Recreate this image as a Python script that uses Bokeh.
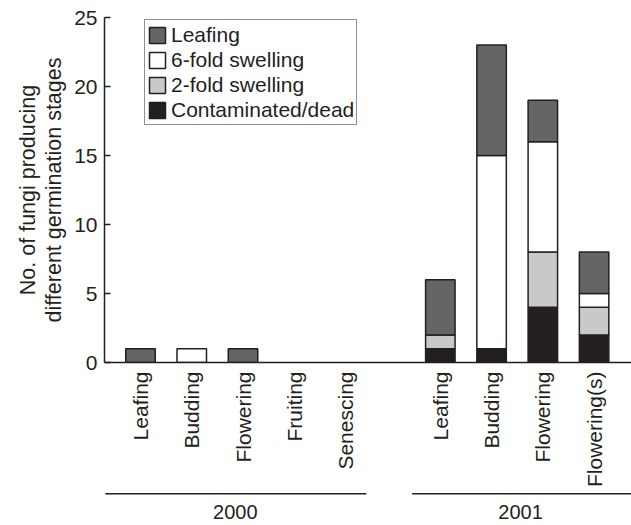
import math
from bokeh.plotting import figure
from bokeh.layouts import column
from bokeh.models import (Range1d, FixedTicker, Legend, LegendItem,
                          ColumnDataSource)
from bokeh.core.properties import value
from bokeh.embed import file_html
from bokeh.resources import INLINE

# ---------------- data ----------------
years = ["2000", "2001"]
stages_2000 = ["Leafing", "Budding", "Flowering", "Fruiting", "Senescing"]
stages_2001 = ["Leafing", "Budding", "Flowering", "Flowering(s)"]

# stacked bottom -> top
dead_2000 = [0, 0, 0, 0, 0]
two_2000 = [0, 0, 0, 0, 0]
six_2000 = [0, 1, 0, 0, 0]
leaf_2000 = [1, 0, 1, 0, 0]

dead_2001 = [1, 1, 4, 2]
two_2001 = [1, 0, 4, 2]
six_2001 = [0, 14, 8, 1]
leaf_2001 = [4, 8, 3, 3]

series_names = ["Contaminated/dead", "2-fold swelling", "6-fold swelling", "Leafing"]
y_ticks = [0, 5, 10, 15, 20, 25]

# ---------------- layout / style ----------------
STEP = 20          # x units between neighbouring bars
GROUP_START = 117  # x of first 2001 bar
BAR_W = 11.5
INK = "#231f20"
FONT = "Liberation Sans"
colors = [INK, "#c8c9cb", "#ffffff", "#646567"]
keys = ["dead", "two", "six", "leaf"]

x_2000 = [i * STEP for i in range(len(stages_2000))]
x_2001 = [GROUP_START + i * STEP for i in range(len(stages_2001))]
x_all = x_2000 + x_2001
cats = stages_2000 + stages_2001

data = dict(
    x=x_all, cat=cats,
    dead=dead_2000 + dead_2001, two=two_2000 + two_2001,
    six=six_2000 + six_2001, leaf=leaf_2000 + leaf_2001,
)
# hide outlines of empty (zero-height) segments
for k in keys:
    data[k + "_la"] = [1.0 if v else 0.0 for v in data[k]]
src = ColumnDataSource(data)

# a row where every segment is drawn (used for legend swatches)
legend_row = next(i for i in range(len(x_all)) if all(data[k][i] for k in keys))

xr = Range1d(-14.05, 191.6)

p = figure(width=631, height=490, x_range=xr, y_range=Range1d(0, 25),
           output_backend="svg", toolbar_location=None,
           min_border_left=104, min_border_right=0,
           min_border_top=17, min_border_bottom=128)
p.grid.visible = False
p.outline_line_color = None

rs = p.vbar_stack(keys, x="x", width=BAR_W,
                  color=colors, line_color=INK, line_width=1.5,
                  line_alpha=[k + "_la" for k in keys],
                  source=src)

# x axis: category labels, rotated (reading bottom to top)
xa = p.xaxis[0]
xa.ticker = FixedTicker(ticks=x_all)
xa.major_label_overrides = {x: c for x, c in zip(x_all, cats)}
xa.major_label_orientation = math.pi / 2
xa.major_tick_line_color = None
xa.minor_tick_line_color = None
xa.major_tick_in = 0
xa.major_tick_out = 0
xa.major_label_standoff = 9
xa.axis_line_color = INK
xa.axis_line_width = 1.5
xa.major_label_text_font = FONT
xa.major_label_text_font_size = "21px"
xa.major_label_text_color = INK

# y axis
ya = p.yaxis[0]
ya.ticker = FixedTicker(ticks=y_ticks)
ya.major_tick_in = 6
ya.major_tick_out = 0
ya.minor_tick_line_color = None
ya.axis_line_color = INK
ya.axis_line_width = 1.5
ya.major_tick_line_color = INK
ya.major_tick_line_width = 1.5
ya.major_label_text_font = FONT
ya.major_label_text_font_size = "21px"
ya.major_label_text_color = INK
ya.major_label_standoff = 7
ya.axis_label = "No. of fungi producing\ndifferent germination stages"
ya.axis_label_text_font = FONT
ya.axis_label_text_font_size = "21.5px"
ya.axis_label_text_font_style = "normal"
ya.axis_label_text_color = INK
ya.axis_label_text_line_height = 1.1
ya.axis_label_standoff = 5

# legend (top to bottom: Leafing, 6-fold, 2-fold, dead)
items = [LegendItem(label=series_names[i], renderers=[rs[i]], index=legend_row)
         for i in [3, 2, 1, 0]]
leg = Legend(items=items, location=(40, 237), padding=2, spacing=0, margin=0,
             glyph_width=20, glyph_height=20, label_height=25, label_standoff=4,
             label_text_font=FONT, label_text_font_size="21px",
             label_text_color=INK, border_line_color=INK, border_line_width=1.5,
             background_fill_alpha=1.0)
p.add_layout(leg)

# ---------------- year groups (second strip) ----------------
q = figure(width=631, height=35, x_range=xr, y_range=Range1d(0, 35),
           output_backend="svg", toolbar_location=None,
           x_axis_location=None, y_axis_location=None,
           min_border_left=104, min_border_right=0,
           min_border_top=0, min_border_bottom=0)
q.grid.visible = False
q.outline_line_color = None

grp_x0 = [-13.7, 106.0]
grp_x1 = [88.1, 192.0]
grp_label_x = [37.0, 148.3]
q.segment(x0=grp_x0, y0=[31.7, 31.7], x1=grp_x1, y1=[31.7, 31.7],
          line_color=INK, line_width=1.5)
q.text(x=grp_label_x, y=[13.5, 13.5], text=years,
       text_align="center", text_baseline="middle",
       text_font=value(FONT), text_font_size="20px", text_color=INK)

layout = column(p, q, spacing=0)
open("out.html", "w").write(file_html(layout, INLINE))
